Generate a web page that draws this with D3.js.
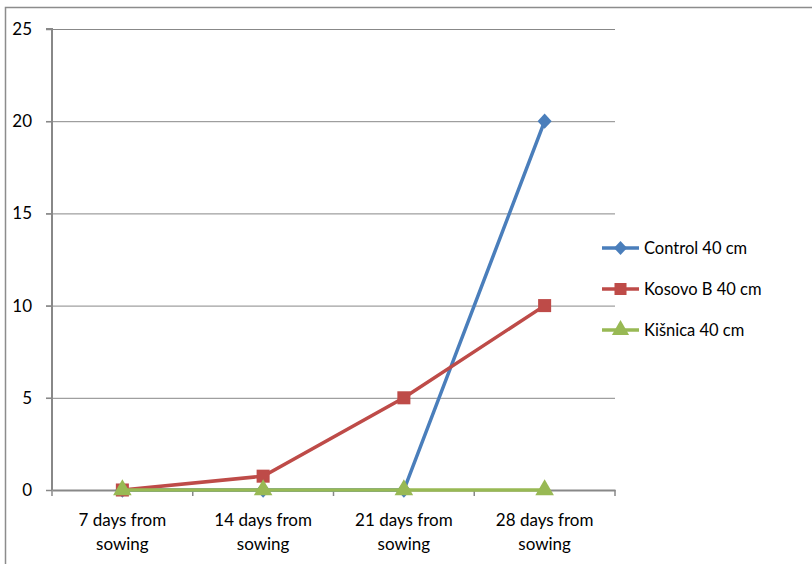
<!DOCTYPE html>
<html>
<head>
<meta charset="utf-8">
<script src="https://cdn.jsdelivr.net/npm/d3@7"></script>
<style>
  body { margin: 0; background: #fff; }
  svg text { font-family: Lato, "Open Sans", sans-serif; fill: #000; }
</style>
</head>
<body>
<div id="chart"></div>
<script>
// data
const categories = ["7 days from sowing", "14 days from sowing", "21 days from sowing", "28 days from sowing"]
const control = [0, 0, 0, 20]
const kosovoB = [0, 0.75, 5, 10]
const kisnica = [0, 0, 0, 0]
const seriesNames = ["Control 40 cm", "Kosovo B 40 cm", "Kišnica 40 cm"]
const yTicks = [0, 5, 10, 15, 20, 25]

const width = 812
const height = 564
const margin = { left: 52, top: 29, right: 197, bottom: 74 }

const svg = d3.select("#chart")
  .append("svg")
    .attr("width", width)
    .attr("height", height)

// outer frame (only left and top edges visible)
svg.append("path")
  .attr("d", "M5.5,564 V7.5 H812")
  .attr("fill", "none")
  .attr("stroke", "#8c8c8c")
  .attr("stroke-width", 1.5)

const x = d3.scaleBand()
  .domain(categories)
  .range([margin.left, width - margin.right])

const y = d3.scaleLinear()
  .domain([0, 25])
  .range([height - margin.bottom, margin.top])

// gridlines
svg.append("g")
  .selectAll("line")
  .data(yTicks.filter(d => d > 0))
  .join("line")
    .attr("x1", margin.left - 6)
    .attr("x2", width - margin.right)
    .attr("y1", d => y(d) + 0.5)
    .attr("y2", d => y(d) + 0.5)
    .attr("stroke", "#888")
    .attr("stroke-width", 1)

// y axis
const yAxis = svg.append("g")
  .attr("transform", `translate(${margin.left},0)`)
  .call(d3.axisLeft(y).tickValues(yTicks).tickSize(6).tickPadding(14))
yAxis.select(".domain").attr("stroke", "#888").attr("stroke-width", 2).attr("d", `M-6,${y(25)}H0V${y(0)}`)
yAxis.selectAll(".tick line").attr("stroke", "#888").attr("stroke-width", 1.5)
yAxis.selectAll(".tick text").style("font-size", "17px").attr("fill", "#000")

// x axis
const xAxis = svg.append("g")
  .attr("transform", `translate(0,${y(0)})`)
  .call(d3.axisBottom(x).tickSize(0).tickFormat(""))
xAxis.select(".domain").attr("stroke", "#888").attr("stroke-width", 2)
xAxis.selectAll(".tick").remove()

// tick marks between categories
const bounds = categories.map(c => x(c)).concat([x(categories[categories.length - 1]) + x.bandwidth()])
xAxis.selectAll("line.sep")
  .data(bounds)
  .join("line")
    .attr("class", "sep")
    .attr("x1", d => d)
    .attr("x2", d => d)
    .attr("y1", 0)
    .attr("y2", 6)
    .attr("stroke", "#888")
    .attr("stroke-width", 1.5)

// category labels on two lines
const labels = svg.append("g")
  .selectAll("text")
  .data(categories)
  .join("text")
    .attr("x", d => x(d) + x.bandwidth() / 2)
    .attr("y", y(0) + 36)
    .attr("text-anchor", "middle")
    .style("font-size", "17px")
labels.append("tspan")
  .attr("x", d => x(d) + x.bandwidth() / 2)
  .text(d => d.replace(" sowing", ""))
labels.append("tspan")
  .attr("x", d => x(d) + x.bandwidth() / 2)
  .attr("dy", 24)
  .text("sowing")

const cx = c => x(c) + x.bandwidth() / 2
const line = d3.line()
  .x((d, i) => cx(categories[i]))
  .y(d => y(d))

const series = [
  { name: seriesNames[0], values: control, color: "#4a7ebb", symbol: d3.symbolDiamond, size: 68 },
  { name: seriesNames[1], values: kosovoB, color: "#be4b48", symbol: d3.symbolSquare, size: 170 },
  { name: seriesNames[2], values: kisnica, color: "#98b954", symbol: d3.symbolTriangle, size: 150 }
]

// diamonds in the picture are nearly square, so stretch d3's tall diamond sideways
const stretch = s => s.symbol === d3.symbolDiamond ? " scale(1.6,1)" : ""

series.forEach(s => {
  svg.append("path")
    .datum(s.values)
    .attr("fill", "none")
    .attr("stroke", s.color)
    .attr("stroke-width", 3.5)
    .attr("d", line)
  svg.append("g")
    .selectAll("path")
    .data(s.values)
    .join("path")
      .attr("transform", (d, i) => `translate(${cx(categories[i])},${y(d)})` + stretch(s))
      .attr("d", d3.symbol().type(s.symbol).size(s.size))
      .attr("fill", s.color)
})

// legend
const legend = svg.append("g")
  .attr("transform", "translate(602,248)")
const legendItems = legend.selectAll("g")
  .data(series)
  .join("g")
    .attr("transform", (d, i) => `translate(0, ${i * 41})`)
legendItems.append("line")
  .attr("x1", 0)
  .attr("x2", 37)
  .attr("stroke", d => d.color)
  .attr("stroke-width", 3.5)
legendItems.append("path")
  .attr("transform", d => "translate(18.5,0)" + stretch(d))
  .attr("d", d => d3.symbol().type(d.symbol).size(d.size * 0.85)())
  .attr("fill", d => d.color)
legendItems.append("text")
  .attr("x", 42)
  .attr("y", 6)
  .style("font-size", "16.5px")
  .text(d => d.name)
</script>
</body>
</html>
